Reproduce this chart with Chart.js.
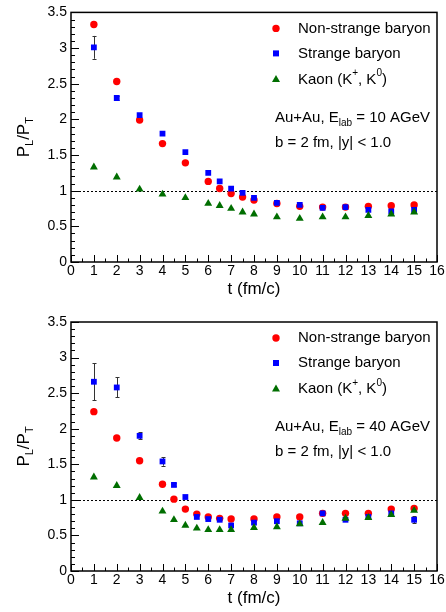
<!DOCTYPE html>
<html lang="en">
<head>
<meta charset="UTF-8">
<title>PL/PT</title>
<script src="https://cdn.jsdelivr.net/npm/chart.js"></script>
<style>
  body { margin: 0; background: #fff; }
  .painel { position: absolute; left: 0; width: 446px; height: 306px; }
</style>
</head>
<body>
<div class="painel" style="top:0"><canvas id="grafTopo" width="446" height="306"></canvas></div>
<div class="painel" style="top:306px"><canvas id="grafBaixo" width="446" height="306"></canvas></div>

<script>
// Au+Au 10 AGeV
const tempos10 = [1, 2, 3, 4, 5, 6, 6.5, 7, 7.5, 8, 9, 10, 11, 12, 13, 14, 15];
const naoEstranho10 = [3.33, 2.53, 1.99, 1.66, 1.39, 1.13, 1.03, 0.96, 0.91, 0.87, 0.82, 0.78, 0.77, 0.77, 0.78, 0.79, 0.80];
const estranho10 = [3.01, 2.30, 2.06, 1.80, 1.54, 1.25, 1.13, 1.03, 0.97, 0.90, 0.83, 0.80, 0.76, 0.77, 0.73, 0.71, 0.73];
const erroEstranho10 = [0.16, 0.03, 0, 0, 0, 0, 0, 0, 0, 0, 0, 0, 0, 0, 0, 0, 0];
const kaon10 = [1.33, 1.19, 1.02, 0.95, 0.90, 0.82, 0.79, 0.75, 0.70, 0.67, 0.63, 0.61, 0.63, 0.63, 0.65, 0.67, 0.70];

// Au+Au 40 AGeV
const tempos40 = [1, 2, 3, 4, 4.5, 5, 5.5, 6, 6.5, 7, 8, 9, 10, 11, 12, 13, 14, 15];
const naoEstranho40 = [2.24, 1.87, 1.55, 1.22, 1.01, 0.87, 0.80, 0.76, 0.74, 0.73, 0.73, 0.76, 0.76, 0.81, 0.81, 0.81, 0.87, 0.88];
const estranho40 = [2.66, 2.58, 1.90, 1.54, 1.21, 1.04, 0.76, 0.73, 0.72, 0.64, 0.68, 0.70, 0.67, 0.81, 0.72, 0.76, 0.81, 0.72];
const erroEstranho40 = [0.26, 0.14, 0.05, 0.06, 0.02, 0, 0, 0, 0, 0, 0, 0, 0, 0, 0, 0, 0, 0.05];
const kaon40 = [1.32, 1.20, 1.03, 0.84, 0.72, 0.64, 0.60, 0.58, 0.58, 0.58, 0.61, 0.62, 0.66, 0.68, 0.74, 0.75, 0.79, 0.85];

const nomesSeries = ['Non-strange baryon', 'Strange baryon', 'Kaon'];
const limitesX = [0, 16];
const limitesY = [0, 3.5];

const VERMELHO = '#ff0000';
const AZUL = '#0000ff';
const VERDE = '#006e00';
const FONTE = "'Liberation Sans', Arial, sans-serif";

Chart.defaults.font.family = FONTE;
Chart.defaults.color = '#000';

function pontos(xs, ys) {
  return xs.map(function (x, i) { return { x: x, y: ys[i] }; });
}

// escreve texto com partes normais, subscritas e sobrescritas
function escrever(ctx, partes, x, y, tam, centro) {
  let total = 0;
  partes.forEach(function (p) {
    ctx.font = (p[1] == 'n' ? tam : Math.round(tam * 0.65)) + 'px ' + FONTE;
    total += ctx.measureText(p[0]).width;
  });
  let px = centro ? x - total / 2 : x;
  ctx.textBaseline = 'middle';
  ctx.textAlign = 'left';
  partes.forEach(function (p) {
    let dy = 0;
    if (p[1] == 'n') {
      ctx.font = tam + 'px ' + FONTE;
    } else {
      ctx.font = Math.round(tam * 0.65) + 'px ' + FONTE;
      dy = p[1] == 'sub' ? tam * 0.38 : -tam * 0.38;
    }
    ctx.fillText(p[0], px, y + dy);
    px += ctx.measureText(p[0]).width;
  });
}

// linha pontilhada em 1 e barras de erro (por baixo dos marcadores)
const fundo = {
  id: 'fundo',
  beforeDatasetsDraw(chart) {
    const ctx = chart.ctx;
    const sx = chart.scales.x, sy = chart.scales.y;
    ctx.save();
    ctx.strokeStyle = '#000';
    ctx.lineWidth = 1;
    ctx.setLineDash([2, 2]);
    ctx.beginPath();
    ctx.moveTo(sx.getPixelForValue(limitesX[0]), Math.round(sy.getPixelForValue(1)) + 0.5);
    ctx.lineTo(sx.getPixelForValue(limitesX[1]), Math.round(sy.getPixelForValue(1)) + 0.5);
    ctx.stroke();
    ctx.setLineDash([]);

    chart.data.datasets.forEach(function (ds) {
      if (!ds.erros) return;
      ds.data.forEach(function (p, i) {
        const e = ds.erros[i];
        if (!e) return;
        const x = Math.round(sx.getPixelForValue(p.x)) + 0.5;
        const y1 = sy.getPixelForValue(p.y + e);
        const y2 = sy.getPixelForValue(p.y - e);
        ctx.strokeStyle = '#333';
        ctx.beginPath();
        ctx.moveTo(x, y1); ctx.lineTo(x, y2);
        ctx.moveTo(x - 2, Math.round(y1) + 0.5); ctx.lineTo(x + 2, Math.round(y1) + 0.5);
        ctx.moveTo(x - 2, Math.round(y2) + 0.5); ctx.lineTo(x + 2, Math.round(y2) + 0.5);
        ctx.stroke();
      });
    });
    ctx.restore();
  }
};

// moldura, ticks para dentro, titulos, legenda
const moldura = {
  id: 'moldura',
  afterDraw(chart, args, opts) {
    const ctx = chart.ctx;
    const a = chart.chartArea;
    const sx = chart.scales.x, sy = chart.scales.y;
    ctx.save();
    ctx.strokeStyle = '#000';
    ctx.lineWidth = 1.5;
    ctx.strokeRect(a.left, a.top, a.right - a.left, a.bottom - a.top);

    ctx.lineWidth = 1;
    ctx.beginPath();
    for (let v = limitesX[0]; v <= limitesX[1]; v += 0.5) {
      const x = Math.round(sx.getPixelForValue(v)) + 0.5;
      const len = (v % 1 == 0) ? 7 : 3.5;
      ctx.moveTo(x, a.bottom);
      ctx.lineTo(x, a.bottom - len);
    }
    for (let k = 0; k <= 35; k++) {
      const v = k / 10;
      const y = Math.round(sy.getPixelForValue(v)) + 0.5;
      const len = (k % 5 == 0) ? 8 : 4;
      ctx.moveTo(a.left, y);
      ctx.lineTo(a.left + len, y);
    }
    ctx.stroke();

    ctx.fillStyle = '#000';
    // titulo eixo x
    escrever(ctx, [['t (fm/c)', 'n']], (a.left + a.right) / 2, a.bottom + 27, 17, true);
    // titulo eixo y
    ctx.save();
    ctx.translate(24, (a.top + a.bottom) / 2);
    ctx.rotate(-Math.PI / 2);
    escrever(ctx, [['P', 'n'], ['L', 'sub'], ['/P', 'n'], ['T', 'sub']], 0, 0, 17, true);
    ctx.restore();

    // legenda
    const mx = 276, tx = 298;
    const linhas = [a.top + 16, a.top + 41, a.top + 67];
    ctx.fillStyle = VERMELHO;
    ctx.beginPath(); ctx.arc(mx, linhas[0], 3.7, 0, Math.PI * 2); ctx.fill();
    ctx.fillStyle = AZUL;
    ctx.fillRect(mx - 3, linhas[1] - 3, 6, 6);
    ctx.fillStyle = VERDE;
    ctx.beginPath();
    ctx.moveTo(mx, linhas[2] - 4.5); ctx.lineTo(mx + 4, linhas[2] + 2.5); ctx.lineTo(mx - 4, linhas[2] + 2.5);
    ctx.closePath(); ctx.fill();

    ctx.fillStyle = '#000';
    escrever(ctx, [[nomesSeries[0], 'n']], tx, linhas[0], 15, false);
    escrever(ctx, [[nomesSeries[1], 'n']], tx, linhas[1], 15, false);
    escrever(ctx, [[nomesSeries[2] + ' (K', 'n'], ['+', 'sup'], [', K', 'n'], ['0', 'sup'], [')', 'n']], tx, linhas[2], 15, false);

    escrever(ctx, [['Au+Au, E', 'n'], ['lab', 'sub'], [' = ' + opts.energia + ' AGeV', 'n']], 275, a.top + 105, 15, false);
    escrever(ctx, [['b = 2 fm, |y| < 1.0', 'n']], 275, a.top + 130, 15, false);
    ctx.restore();
  }
};

function criarGrafico(idCanvas, tempos, naoEstranho, estranho, erroEstranho, kaon, energia, topo, alturaX) {
  const dados = {
    datasets: [
      {
        label: nomesSeries[2],
        data: pontos(tempos, kaon),
        pointStyle: 'triangle',
        pointRadius: 4.6,
        backgroundColor: VERDE,
        borderWidth: 0,
        order: 0
      },
      {
        label: nomesSeries[1],
        data: pontos(tempos, estranho),
        erros: erroEstranho,
        pointStyle: 'rect',
        pointRadius: 4.1,
        backgroundColor: AZUL,
        borderWidth: 0,
        order: 1
      },
      {
        label: nomesSeries[0],
        data: pontos(tempos, naoEstranho),
        pointStyle: 'circle',
        pointRadius: 3.7,
        backgroundColor: VERMELHO,
        borderWidth: 0,
        order: 2
      }
    ]
  };

  const config = {
    type: 'scatter',
    data: dados,
    options: {
      responsive: false,
      animation: false,
      devicePixelRatio: 1,
      layout: { padding: { top: topo, right: 9, left: 0, bottom: 0 } },
      plugins: {
        legend: { display: false },
        tooltip: { enabled: false },
        moldura: { energia: energia }
      },
      scales: {
        x: {
          type: 'linear',
          min: limitesX[0],
          max: limitesX[1],
          grid: { display: false, drawTicks: false },
          border: { display: false },
          ticks: { stepSize: 1, autoSkip: false, maxRotation: 0, padding: 1, font: { size: 14 } },
          afterFit: function (s) { s.height = alturaX; }
        },
        y: {
          type: 'linear',
          min: limitesY[0],
          max: limitesY[1],
          grid: { display: false, drawTicks: false },
          border: { display: false },
          ticks: {
            stepSize: 0.5,
            padding: 4,
            font: { size: 14 },
            callback: function (v) { return String(Number(v.toFixed(1))); }
          },
          afterFit: function (s) { s.width = 71; }
        }
      }
    },
    plugins: [fundo, moldura]
  };

  return new Chart(document.getElementById(idCanvas), config);
}

criarGrafico('grafTopo', tempos10, naoEstranho10, estranho10, erroEstranho10, kaon10, '10', 12, 44);
criarGrafico('grafBaixo', tempos40, naoEstranho40, estranho40, erroEstranho40, kaon40, '40', 16, 41);
</script>
</body>
</html>
